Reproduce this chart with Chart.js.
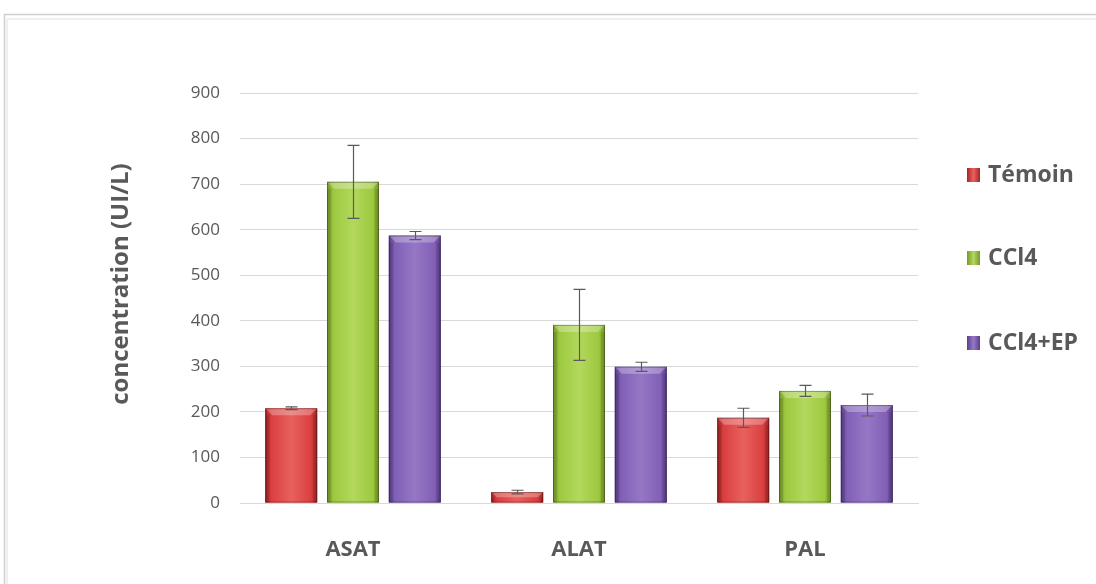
<!DOCTYPE html>
<html>
<head>
<meta charset="utf-8">
<script src="https://cdn.jsdelivr.net/npm/chart.js@4"></script>
<style>
  html, body { margin: 0; padding: 0; background: #fff; }
  #wrap { width: 1096px; height: 584px; position: relative; }
</style>
</head>
<body>
<div id="wrap"><canvas id="chart"></canvas></div>
<script>
// enzyme activity per group (UI/L) with standard deviations
const categories = ["ASAT", "ALAT", "PAL"];
const groups = ["Témoin", "CCl4", "CCl4+EP"];
const temoin = [208, 24, 187];
const temoinErr = [3, 4, 21];
const ccl4 = [705, 391, 246];
const ccl4Err = [80, 78, 12];
const ccl4Ep = [587, 299, 215];
const ccl4EpErr = [9, 10, 24];
const yTicks = [0, 100, 200, 300, 400, 500, 600, 700, 800, 900];
const yTitle = "concentration (UI/L)";

const palette = [
    { base: "#d94040", dark: "#a82424", light: "#e8615e" },
    { base: "#9dc93f", dark: "#76992a", light: "#b3d85d" },
    { base: "#8160b5", dark: "#5c3f8c", light: "#9577c6" },
];
const textGray = "#595959";
const fontFamily = "'Open Sans', 'DejaVu Sans', sans-serif";

const series = [temoin, ccl4, ccl4Ep];
const errors = [temoinErr, ccl4Err, ccl4EpErr];

// shade each bar with darker sides, lighter middle and a bevelled top
const bevelBars = {
    id: "bevelBars",
    afterDatasetsDraw(chart) {
        const ctx = chart.ctx;
        chart.data.datasets.forEach((ds, di) => {
            const c = palette[di];
            chart.getDatasetMeta(di).data.forEach((bar) => {
                const { x, y, base, width } = bar.getProps(["x", "y", "base", "width"], true);
                const l = x - width / 2, r = x + width / 2;
                const h = base - y;
                ctx.save();
                const g = ctx.createLinearGradient(l, 0, r, 0);
                g.addColorStop(0, c.dark);
                g.addColorStop(0.12, c.base);
                g.addColorStop(0.5, c.light);
                g.addColorStop(0.88, c.base);
                g.addColorStop(1, c.dark);
                ctx.fillStyle = g;
                ctx.fillRect(l, y, width, h);
                // top bevel
                const b = Math.min(7, h / 2);
                ctx.beginPath();
                ctx.moveTo(l, y);
                ctx.lineTo(r, y);
                ctx.lineTo(r - b, y + b);
                ctx.lineTo(l + b, y + b);
                ctx.closePath();
                ctx.fillStyle = "rgba(255,255,255,0.28)";
                ctx.fill();
                // side bevels
                ctx.fillStyle = "rgba(0,0,0,0.1)";
                ctx.fillRect(l, y + b, b * 0.6, h - b);
                ctx.fillRect(r - b * 0.6, y + b, b * 0.6, h - b);
                ctx.strokeStyle = "rgba(0,0,0,0.3)";
                ctx.lineWidth = 1;
                ctx.strokeRect(l + 0.5, y + 0.5, width - 1, h - 1);
                ctx.restore();
            });
        });
    },
};

// standard deviation whiskers
const errorBars = {
    id: "errorBars",
    afterDatasetsDraw(chart) {
        const ctx = chart.ctx;
        const yScale = chart.scales.y;
        ctx.save();
        ctx.strokeStyle = "#5a5a5a";
        ctx.lineWidth = 1.2;
        chart.data.datasets.forEach((ds, di) => {
            chart.getDatasetMeta(di).data.forEach((bar, i) => {
                const v = ds.data[i], e = errors[di][i];
                const x = Math.round(bar.x) + 0.5;
                const yTop = yScale.getPixelForValue(v + e);
                const yBot = yScale.getPixelForValue(v - e);
                ctx.beginPath();
                ctx.moveTo(x, yTop); ctx.lineTo(x, yBot);
                ctx.moveTo(x - 6, yTop); ctx.lineTo(x + 6, yTop);
                ctx.moveTo(x - 6, yBot); ctx.lineTo(x + 6, yBot);
                ctx.stroke();
            });
        });
        ctx.restore();
    },
};

// outer frame, y axis title and the legend on the right
const frameLegend = {
    id: "frameLegend",
    beforeDraw(chart) {
        const ctx = chart.ctx;
        ctx.save();
        ctx.strokeStyle = "#d0d0d0";
        ctx.lineWidth = 1.5;
        ctx.beginPath();
        ctx.moveTo(4.5, chart.height);
        ctx.lineTo(4.5, 14.5);
        ctx.lineTo(chart.width, 14.5);
        ctx.stroke();
        ctx.strokeStyle = "#f0f0f0";
        ctx.lineWidth = 2;
        ctx.beginPath();
        ctx.moveTo(7, chart.height);
        ctx.lineTo(7, 19);
        ctx.lineTo(chart.width, 19);
        ctx.stroke();
        ctx.restore();
    },
    afterDraw(chart) {
        const ctx = chart.ctx;
        ctx.save();
        ctx.translate(121, 284);
        ctx.rotate(-Math.PI / 2);
        ctx.font = "bold 24px " + fontFamily;
        ctx.fillStyle = textGray;
        ctx.textAlign = "center";
        ctx.textBaseline = "middle";
        ctx.fillText(yTitle, 0, 0);
        ctx.restore();

        const rows = [175, 258, 343];
        ctx.save();
        ctx.font = "bold 23px " + fontFamily;
        ctx.textBaseline = "middle";
        ctx.textAlign = "left";
        groups.forEach((name, i) => {
            const c = palette[i];
            const y = rows[i];
            const g = ctx.createLinearGradient(967, 0, 980, 0);
            g.addColorStop(0, c.dark);
            g.addColorStop(0.5, c.light);
            g.addColorStop(1, c.dark);
            ctx.fillStyle = g;
            ctx.fillRect(967, y - 7, 13, 14);
            ctx.fillStyle = textGray;
            ctx.fillText(name, 988, y);
        });
        ctx.restore();
    },
};

new Chart(document.getElementById("chart"), {
    type: "bar",
    data: {
        labels: categories,
        datasets: groups.map((g, i) => ({
            label: g,
            data: series[i],
            backgroundColor: palette[i].base,
            categoryPercentage: 0.82,
            barPercentage: 0.84,
        })),
    },
    plugins: [frameLegend, bevelBars, errorBars],
    options: {
        responsive: true,
        maintainAspectRatio: false,
        animation: false,
        layout: { padding: { left: 100, top: 93, right: 178, bottom: 0 } },
        plugins: {
            legend: { display: false },
            tooltip: { enabled: false },
        },
        scales: {
            x: {
                grid: { display: false },
                border: { color: "#d9d9d9", width: 1 },
                ticks: {
                    color: textGray,
                    padding: 26,
                    font: { family: fontFamily, size: 22, weight: "bold" },
                },
                afterFit: (s) => { s.height = 81; },
            },
            y: {
                min: 0,
                max: 900,
                afterBuildTicks: (s) => { s.ticks = yTicks.map((v) => ({ value: v })); },
                grid: { color: "#d9d9d9", drawTicks: false },
                border: { display: false },
                ticks: {
                    color: textGray,
                    padding: 20,
                    font: { family: fontFamily, size: 17 },
                },
                afterFit: (s) => { s.width = 140; },
            },
        },
    },
});
</script>
</body>
</html>
